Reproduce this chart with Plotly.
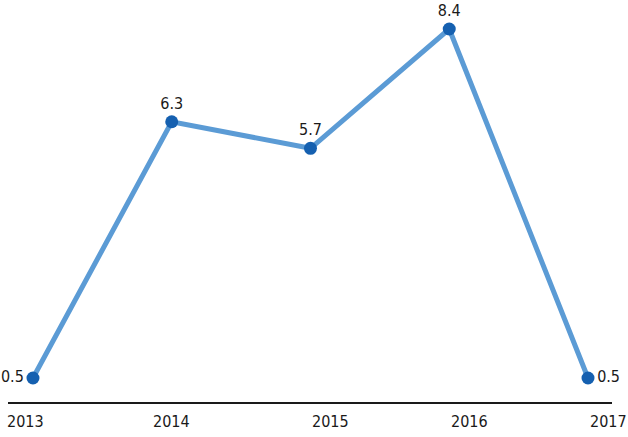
import plotly.graph_objects as go

years = [2013, 2014, 2015, 2016, 2017]
values = [0.5, 6.3, 5.7, 8.4, 0.5]
value_labels = ["0.5", "6.3", "5.7", "8.4", "0.5"]
year_labels = ["2013", "2014", "2015", "2016", "2017"]

FONT = "DejaVu Sans Condensed, Liberation Sans Narrow, sans-serif"

fig = go.Figure()
fig.add_trace(go.Scatter(
    x=years, y=values, mode="lines+markers+text",
    text=value_labels,
    textposition=["middle left", "top center", "top center", "top center", "middle right"],
    textfont=dict(family=FONT, size=16, color="#1a1a1a"),
    line=dict(color="#5b9bd5", width=5),
    marker=dict(color="#1560b0", size=13),
    cliponaxis=False,
    hoverinfo="skip",
))

label_anchor = ["center", "center", "left", "left", "left"]
label_shift = [-7, 0, 0, 0, 0]
for yr, lab, anc, sh in zip(years, year_labels, label_anchor, label_shift):
    fig.add_annotation(x=yr, y=0, xref="x", yref="paper", text=lab,
                       showarrow=False, xanchor=anc, yanchor="top", yshift=-8, xshift=sh,
                       font=dict(family=FONT, size=16, color="#1a1a1a"))

fig.update_layout(
    width=628, height=437,
    margin=dict(l=8, r=16, t=10, b=35),
    paper_bgcolor="white", plot_bgcolor="white",
    showlegend=False,
    xaxis=dict(range=[2012.82, 2017.173], showgrid=False, zeroline=False,
               showticklabels=False, ticks="", showline=True,
               linecolor="#1a1a1a", linewidth=1.5),
    yaxis=dict(range=[-0.0432, 8.83], visible=False),
)

fig.write_html("out.html", config={"displayModeBar": False, "staticPlot": True},
               post_script="document.body.style.margin='0';document.body.style.overflow='hidden';")
